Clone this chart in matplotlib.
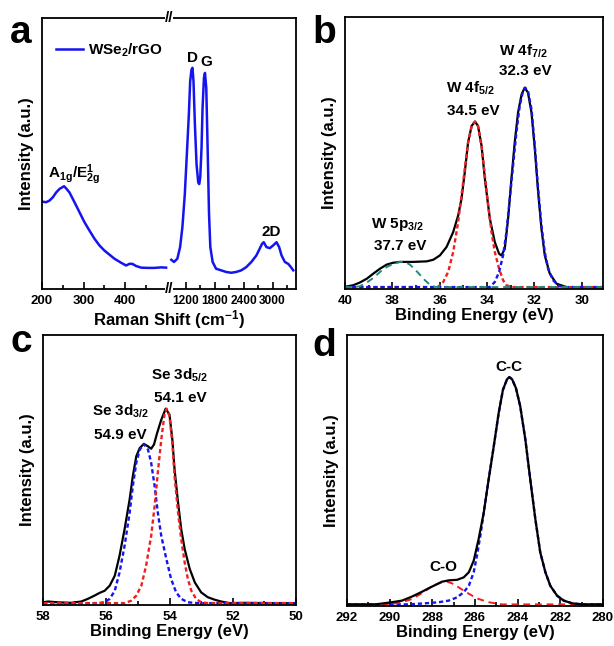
"""Raman spectrum (a) and XPS peak fits (b-d) of WSe2/rGO, redrawn as one 2x2 figure."""
import matplotlib

matplotlib.use("Agg")
import matplotlib.pyplot as plt
from matplotlib.ticker import MultipleLocator, FixedLocator

plt.rcParams["font.family"] = ["Liberation Sans", "DejaVu Sans"]
plt.rcParams["font.weight"] = "bold"
plt.rcParams["axes.labelweight"] = "bold"
plt.rcParams["mathtext.fontset"] = "custom"
plt.rcParams["mathtext.rm"] = "Liberation Sans:bold"
plt.rcParams["mathtext.it"] = "Liberation Sans:bold"
plt.rcParams["mathtext.bf"] = "Liberation Sans:bold"

# ---- (a) Raman (normalised intensity) ----
raman_low_x = [200, 210, 218, 226, 234, 242, 253, 258, 266, 278, 290, 302, 314, 326,
               338, 350, 362, 374, 390, 402, 410, 417, 426, 438, 454, 470, 486, 498]
raman_low_y = [0.319, 0.317, 0.323, 0.335, 0.353, 0.366, 0.376, 0.368, 0.353, 0.317,
               0.280, 0.243, 0.212, 0.182, 0.157, 0.138, 0.123, 0.108, 0.093, 0.083,
               0.089, 0.089, 0.081, 0.075, 0.074, 0.074, 0.076, 0.075]
raman_high_x = [899, 955, 1024, 1081, 1129, 1179, 1221, 1263, 1290, 1317,
                1338, 1359, 1388, 1422, 1457, 1478, 1499, 1526, 1547, 1576,
                1597, 1624, 1652, 1681, 1708, 1756, 1827, 1932, 2036, 2141,
                2245, 2350, 2454, 2559, 2663, 2732, 2780, 2816, 2872, 2941,
                3010, 3081, 3135, 3186, 3254, 3323, 3380, 3428]
raman_high_y = [0.104, 0.096, 0.108, 0.151, 0.225, 0.347, 0.494, 0.642, 0.764, 0.807,
                0.814, 0.764, 0.605, 0.458, 0.390, 0.384, 0.409, 0.519, 0.666, 0.777,
                0.795, 0.740, 0.519, 0.274, 0.151, 0.096, 0.071, 0.065, 0.059, 0.056,
                0.059, 0.065, 0.077, 0.096, 0.120, 0.145, 0.163, 0.169, 0.151, 0.147,
                0.157, 0.169, 0.151, 0.120, 0.096, 0.089, 0.077, 0.065]
raman_low_ticks = [200, 300, 400]
raman_high_ticks = [1200, 1800, 2400, 3000]

# ---- (b) W 4f / 5p ----
w_sum_x = [40.0, 39.65, 39.37, 39.08, 38.80, 38.52, 38.24, 37.96, 37.68, 37.40,
           37.12, 36.84, 36.55, 36.27, 35.99, 35.71, 35.43, 35.22, 35.08, 34.94,
           34.80, 34.65, 34.51, 34.38, 34.23, 34.09, 33.88, 33.67, 33.49, 33.39,
           33.25, 33.11, 32.97, 32.83, 32.69, 32.54, 32.41, 32.27, 32.12, 31.98,
           31.84, 31.70, 31.56, 31.35, 31.07, 30.65, 30.08, 29.1]
w_sum_y = [0.004, 0.010, 0.020, 0.034, 0.053, 0.071, 0.086, 0.093, 0.096, 0.096,
           0.096, 0.097, 0.098, 0.104, 0.120, 0.151, 0.206, 0.267, 0.328, 0.426,
           0.537, 0.598, 0.614, 0.598, 0.524, 0.402, 0.255, 0.169, 0.126, 0.120,
           0.144, 0.255, 0.402, 0.537, 0.647, 0.714, 0.739, 0.721, 0.647, 0.512,
           0.353, 0.218, 0.120, 0.053, 0.016, 0.003, 0.002, 0.002]
w4f52_x = [40.0, 36.30, 36.06, 35.85, 35.64, 35.43, 35.22, 35.08, 34.94, 34.80,
           34.65, 34.51, 34.38, 34.23, 34.09, 33.95, 33.81, 33.67, 33.49, 33.32,
           33.18, 32.97, 29.1]
w4f52_y = [0.003, 0.003, 0.004, 0.022, 0.059, 0.132, 0.243, 0.340, 0.439, 0.537,
           0.598, 0.614, 0.598, 0.524, 0.414, 0.304, 0.206, 0.132, 0.071, 0.028,
           0.010, 0.003, 0.003]
w4f72_x = [40.0, 34.10, 33.88, 33.67, 33.49, 33.32, 33.18, 33.04, 32.90, 32.76,
           32.62, 32.48, 32.38, 32.27, 32.12, 31.98, 31.84, 31.70, 31.56, 31.42,
           31.21, 30.93, 30.65, 29.1]
w4f72_y = [0.003, 0.003, 0.003, 0.022, 0.059, 0.120, 0.206, 0.328, 0.451, 0.573,
           0.671, 0.727, 0.739, 0.727, 0.659, 0.524, 0.365, 0.230, 0.132, 0.071,
           0.028, 0.006, 0.003, 0.003]
w5p_x = [40.0, 39.65, 39.37, 39.08, 38.80, 38.52, 38.24, 37.96, 37.68, 37.47,
         37.26, 37.05, 36.84, 36.62, 36.41, 36.20, 35.99, 29.1]
w5p_y = [0.003, 0.003, 0.006, 0.020, 0.037, 0.059, 0.077, 0.089, 0.096, 0.096,
         0.086, 0.069, 0.049, 0.028, 0.012, 0.004, 0.003, 0.003]

# ---- (c) Se 3d ----
se_sum_x = [58.0, 57.84, 57.53, 57.11, 56.79, 56.58, 56.37, 56.21, 56.05, 55.89,
            55.73, 55.58, 55.42, 55.26, 55.16, 55.05, 54.94, 54.81, 54.68, 54.58,
            54.49, 54.39, 54.26, 54.12, 54.00, 53.91, 53.84, 53.73, 53.63, 53.52,
            53.36, 53.20, 53.00, 52.79, 52.58, 52.37, 52.10, 51.63, 50.79, 50.0]
se_sum_y = [0.006, 0.009, 0.006, 0.004, 0.009, 0.019, 0.031, 0.041, 0.049, 0.068,
            0.105, 0.179, 0.278, 0.389, 0.475, 0.549, 0.580, 0.595, 0.586, 0.577,
            0.593, 0.636, 0.685, 0.726, 0.704, 0.611, 0.500, 0.377, 0.278, 0.204,
            0.130, 0.080, 0.043, 0.025, 0.016, 0.009, 0.003, 0.004, 0.003, 0.003]
se32_x = [58.0, 56.26, 56.05, 55.89, 55.73, 55.58, 55.42, 55.26, 55.16, 55.05,
          54.94, 54.81, 54.68, 54.58, 54.47, 54.37, 54.26, 54.10, 53.95, 53.79,
          53.63, 53.42, 53.10, 50.0]
se32_y = [0.003, 0.003, 0.006, 0.019, 0.049, 0.117, 0.216, 0.340, 0.438, 0.525,
          0.574, 0.595, 0.574, 0.525, 0.438, 0.340, 0.253, 0.167, 0.093, 0.043,
          0.019, 0.006, 0.003, 0.003]
se52_x = [58.0, 55.42, 55.21, 55.05, 54.89, 54.74, 54.58, 54.47, 54.37, 54.26,
          54.16, 54.09, 54.00, 53.91, 53.84, 53.73, 53.63, 53.52, 53.42, 53.31,
          53.16, 53.00, 52.79, 50.0]
se52_y = [0.003, 0.003, 0.012, 0.031, 0.068, 0.142, 0.253, 0.364, 0.488, 0.611,
          0.704, 0.726, 0.698, 0.599, 0.475, 0.340, 0.241, 0.154, 0.093, 0.049,
          0.019, 0.006, 0.003, 0.003]

# ---- (d) C 1s ----
c_sum_x = [292.0, 290.67, 289.89, 289.42, 288.95, 288.48, 288.09, 287.78, 287.55, 287.23,
           286.84, 286.53, 286.29, 286.06, 285.83, 285.59, 285.36, 285.12, 284.89, 284.69,
           284.50, 284.39, 284.26, 284.08, 283.88, 283.64, 283.41, 283.17, 282.94, 282.70,
           282.47, 282.15, 281.84, 281.45, 280.98, 280.0]
c_sum_y = [0.002, 0.002, 0.010, 0.016, 0.031, 0.049, 0.065, 0.077, 0.086, 0.091,
           0.093, 0.102, 0.121, 0.164, 0.244, 0.342, 0.465, 0.588, 0.711, 0.797,
           0.836, 0.844, 0.836, 0.803, 0.736, 0.613, 0.465, 0.317, 0.194, 0.121,
           0.071, 0.034, 0.016, 0.006, 0.002, 0.002]
cc_x = [292.0, 289.89, 289.11, 288.33, 287.70, 287.23, 286.84, 286.53, 286.29, 286.06,
        285.91, 285.75, 285.59, 285.36, 285.12, 284.89, 284.69, 284.50, 284.39, 284.26,
        284.08, 283.88, 283.64, 283.41, 283.17, 282.94, 282.70, 282.47, 282.15, 281.84,
        281.45, 280.98, 280.0]
cc_y = [0.002, 0.002, 0.002, 0.006, 0.010, 0.016, 0.028, 0.047, 0.071, 0.121,
        0.182, 0.256, 0.342, 0.465, 0.588, 0.711, 0.797, 0.836, 0.844, 0.836,
        0.803, 0.736, 0.613, 0.465, 0.317, 0.194, 0.121, 0.071, 0.034, 0.016,
        0.006, 0.002, 0.002]
co_x = [292.0, 290.67, 289.89, 289.42, 288.95, 288.48, 288.09, 287.78, 287.55, 287.31,
        287.08, 286.84, 286.53, 286.22, 285.83, 285.36, 284.73, 284.11, 280.0]
co_y = [0.002, 0.002, 0.004, 0.010, 0.022, 0.044, 0.065, 0.077, 0.084, 0.086,
        0.080, 0.069, 0.053, 0.038, 0.022, 0.010, 0.002, 0.002, 0.002]

W, H = 614, 646
BLUE = "#1414f0"
RED = "#f01e1e"
TEAL = "#22897a"
SHORT = (0, (1.8, 1.2))
LONG = (0, (3.5, 2.5))
TICK_FS = 9.5
LABEL_FS = 12
NOTE_FS = 11


def px_axes(fig, left, top, right, bottom):
    return fig.add_axes([left / W, 1 - bottom / H, (right - left) / W, (bottom - top) / H])


def style(ax, major, minor, ylabel=True):
    ax.tick_params(axis="x", which="both", direction="in", labelsize=TICK_FS, pad=4, width=1.2)
    ax.tick_params(axis="x", which="major", length=5)
    ax.tick_params(axis="x", which="minor", length=3)
    ax.tick_params(axis="y", left=False, right=False, labelleft=False)
    if major is not None:
        ax.xaxis.set_major_locator(MultipleLocator(major))
        ax.xaxis.set_minor_locator(MultipleLocator(minor))
    for s in ax.spines.values():
        s.set_linewidth(1.3)
    ax.set_ylim(-0.004, 1.0)
    if ylabel:
        ax.set_ylabel("Intensity (a.u.)", fontsize=LABEL_FS, labelpad=6)


def main():
    fig = plt.figure(figsize=(W / 100, H / 100), dpi=100)

    # (a) broken x axis: two axes glued together at x=169 px
    ax_a1 = px_axes(fig, 42, 17.5, 169, 289)
    ax_a2 = px_axes(fig, 169, 17.5, 296, 289)
    ax_a2.patch.set_visible(False)
    ax_a1.plot(raman_low_x, raman_low_y, color=BLUE, lw=1.8, label="WSe$_2$/rGO")
    ax_a2.plot(raman_high_x, raman_high_y, color=BLUE, lw=1.8)
    ax_a1.set_xlim(200, 505)
    ax_a2.set_xlim(851, 3485)
    style(ax_a1, None, None)
    style(ax_a2, None, None, ylabel=False)
    ax_a2.tick_params(axis="x", labelsize=8.6)
    ax_a1.xaxis.set_major_locator(FixedLocator(raman_low_ticks))
    ax_a1.xaxis.set_minor_locator(FixedLocator([250, 350, 450]))
    ax_a2.xaxis.set_major_locator(FixedLocator(raman_high_ticks))
    ax_a2.xaxis.set_minor_locator(FixedLocator([900, 1500, 2100, 2700, 3300]))
    ax_a1.spines["right"].set_visible(False)
    ax_a2.spines["left"].set_visible(False)
    for yy in (0, 1):
        ax_a2.text(0.0, yy, "//", transform=ax_a2.transAxes, ha="center", va="center",
                   fontsize=11, fontweight="bold", clip_on=False,
                   bbox=dict(fc="white", ec="none", pad=0.0))
    ax_a1.legend(loc="center left", bbox_to_anchor=(0.005, 0.88), frameon=False,
                 fontsize=NOTE_FS, handlelength=1.75, handletextpad=0.35)
    fig.text((42 + 296) / 2 / W, 1 - 320 / H, "Raman Shift (cm$^{-1}$)",
             ha="center", va="center", fontsize=LABEL_FS, fontweight="bold")
    ax_a1.text(278, 0.42, "A$_{1g}$/E$^{1}_{2g}$", ha="center", va="center", fontsize=NOTE_FS)
    ax_a2.text(1332, 0.85, "D", ha="center", va="center", fontsize=NOTE_FS)
    ax_a2.text(1624, 0.835, "G", ha="center", va="center", fontsize=NOTE_FS)
    ax_a2.text(2962, 0.206, "2D", ha="center", va="center", fontsize=NOTE_FS)

    # (b) W 4f
    ax_b = px_axes(fig, 345, 17, 603, 289)
    ax_b.plot(w_sum_x, w_sum_y, color="black", lw=1.6)
    ax_b.plot(w4f52_x, w4f52_y, color=RED, lw=1.7, ls=SHORT)
    ax_b.plot(w4f72_x, w4f72_y, color=BLUE, lw=1.7, ls=SHORT)
    ax_b.plot(w5p_x, w5p_y, color=TEAL, lw=1.4, ls=LONG)
    ax_b.set_xlim(40, 29.1)
    style(ax_b, 2, 1)
    ax_b.set_xlabel("Binding Energy (eV)", fontsize=LABEL_FS, labelpad=1)
    ax_b.text(32.45, 0.875, "W 4f$_{7/2}$", ha="center", va="center", fontsize=NOTE_FS)
    ax_b.text(32.4, 0.80, "32.3 eV", ha="center", va="center", fontsize=NOTE_FS)
    ax_b.text(34.7, 0.736, "W 4f$_{5/2}$", ha="center", va="center", fontsize=NOTE_FS)
    ax_b.text(34.6, 0.652, "34.5 eV", ha="center", va="center", fontsize=NOTE_FS)
    ax_b.text(37.8, 0.235, "W 5p$_{3/2}$", ha="center", va="center", fontsize=NOTE_FS)
    ax_b.text(37.68, 0.155, "37.7 eV", ha="center", va="center", fontsize=NOTE_FS)

    # (c) Se 3d
    ax_c = px_axes(fig, 43, 335, 296, 605)
    ax_c.plot(se_sum_x, se_sum_y, color="black", lw=1.6)
    ax_c.plot(se32_x, se32_y, color=BLUE, lw=1.7, ls=SHORT)
    ax_c.plot(se52_x, se52_y, color=RED, lw=1.7, ls=SHORT)
    ax_c.set_xlim(58, 50)
    style(ax_c, 2, 1)
    ax_c.set_xlabel("Binding Energy (eV)", fontsize=LABEL_FS, labelpad=1)
    ax_c.text(53.67, 0.852, "Se 3d$_{5/2}$", ha="center", va="center", fontsize=NOTE_FS)
    ax_c.text(53.67, 0.767, "54.1 eV", ha="center", va="center", fontsize=NOTE_FS)
    ax_c.text(55.54, 0.716, "Se 3d$_{3/2}$", ha="center", va="center", fontsize=NOTE_FS)
    ax_c.text(55.56, 0.63, "54.9 eV", ha="center", va="center", fontsize=NOTE_FS)

    # (d) C 1s
    ax_d = px_axes(fig, 347, 335, 603, 606)
    ax_d.plot(cc_x, cc_y, color=BLUE, lw=1.7, ls=SHORT)
    ax_d.plot(co_x, co_y, color=RED, lw=1.4, ls=LONG)
    ax_d.plot(c_sum_x, c_sum_y, color="black", lw=1.6)
    ax_d.set_xlim(292, 280)
    style(ax_d, 2, 1)
    ax_d.set_xlabel("Binding Energy (eV)", fontsize=LABEL_FS, labelpad=1)
    ax_d.text(284.4, 0.88, "C-C", ha="center", va="center", fontsize=NOTE_FS)
    ax_d.text(287.47, 0.139, "C-O", ha="center", va="center", fontsize=NOTE_FS)

    # panel letters
    for letter, x, y in [("a", 10, 43), ("b", 312, 43), ("c", 11, 352), ("d", 312, 356)]:
        fig.text(x / W, 1 - y / H, letter, fontsize=28, fontweight="bold", va="baseline")

    fig.savefig("out.png", dpi=100)


if __name__ == "__main__":
    main()
